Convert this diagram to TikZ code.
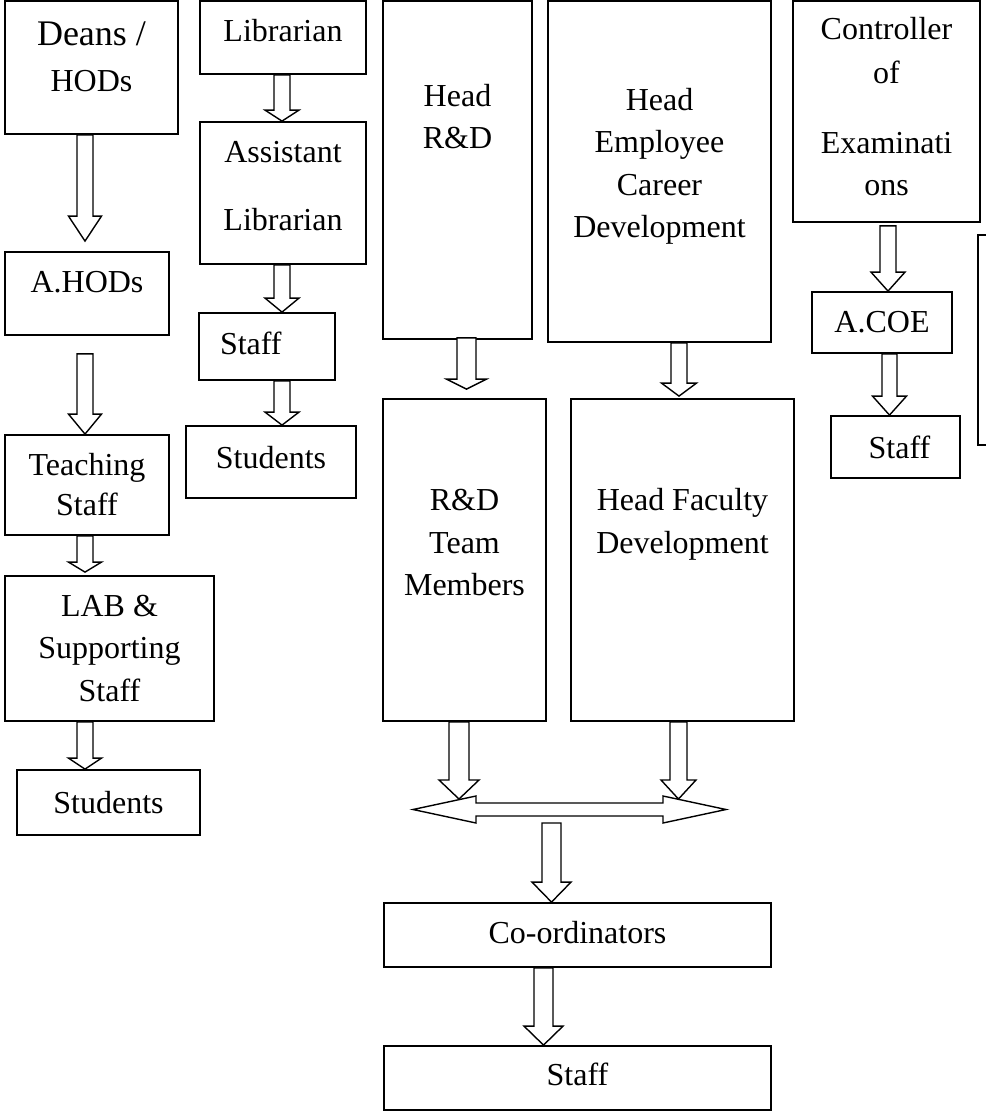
\documentclass[tikz,border=0pt]{standalone}
\usepackage{fontspec}
\setmainfont{Liberation Serif}
\usetikzlibrary{calc}
\newcommand\blockdown[6]{%
  \draw[hollow] let \p1=(#2), \p2=(#3) in
    (#1-#4/2,\y1) -- (#1-#4/2,\y2+#6) -- (#1-#5/2,\y2+#6) -- (#1,\y2)
    -- (#1+#5/2,\y2+#6) -- (#1+#4/2,\y2+#6) -- (#1+#4/2,\y1) -- cycle;}
\begin{document}
\begin{tikzpicture}[x=1pt,y=-1pt,
    box/.style={draw=black, line width=1.8pt, fill=white, inner sep=2pt, align=center,
      font=\fontsize{32}{42.5}\selectfont},
    hollow/.style={draw=black, line width=1.4pt, fill=white, line join=miter}]
    \useasboundingbox (0,0) rectangle (985,1113);
    \node[box, minimum width=173pt, minimum height=133pt, text depth=22pt] (deans) at (91.5,67.5) {{\fontsize{36}{47}\selectfont Deans /}\\[4pt]HODs};
    \node[box, minimum width=164pt, minimum height=83pt, text depth=23pt] (ahods) at (87,293.5) {A.HODs};
    \node[box, minimum width=164pt, minimum height=100pt] (teach) at (87,485) {Teaching\\[-2.5pt]Staff};
    \node[box, minimum width=209pt, minimum height=145pt] (lab) at (109.5,648.5) {LAB \&\\Supporting\\Staff};
    \node[box, minimum width=183pt, minimum height=65pt] (stuleft) at (108.5,802.5) {Students};
    \node[box, minimum width=166pt, minimum height=73pt, text depth=15pt] (lib) at (283,37.5) {Librarian};
    \node[box, minimum width=166pt, minimum height=142pt, text depth=14pt] (alib) at (283,193) {Assistant\\[25.5pt]Librarian};
    \node[box, minimum width=136pt, minimum height=67pt, inner xsep=21pt, text width=94pt, align=left, text depth=7pt] (libstaff) at (267,346.5) {Staff};
    \node[box, minimum width=170pt, minimum height=72pt, text depth=10pt] (libstu) at (271,462) {Students};
    \node[box, minimum width=149pt, minimum height=338pt, text depth=107pt] (headrd) at (457.5,170) {Head\\R\&D};
    \node[box, minimum width=223pt, minimum height=341pt, text depth=17pt] (headecd) at (659.5,171.5) {Head\\Employee\\Career\\Development};
    \node[box, minimum width=163pt, minimum height=322pt, text depth=35pt] (rdteam) at (464.5,560) {R\&D\\Team\\Members};
    \node[box, minimum width=223pt, minimum height=322pt, text depth=78pt] (headfd) at (682.5,560) {Head Faculty\\Development};
    \node[box, minimum width=187pt, minimum height=221pt, text depth=10pt] (coe) at (886.5,111.5) {Controller\\[1.5pt]of\\[27.5pt]Examinati\\ons};
    \node[box, minimum width=140pt, minimum height=61pt] (acoe) at (882,322.5) {A.COE};
    \node[box, minimum width=129pt, minimum height=62pt] (coestaff) at (895.5,447) {~Staff};
    \node[box, minimum width=387pt, minimum height=64pt, text depth=6pt] (coord) at (577.5,935) {Co-ordinators};
    \node[box, minimum width=387pt, minimum height=64pt, text depth=8pt] (staff) at (577.5,1078) {Staff};
    \draw[draw=black, line width=1.8pt] (986,235) -- (978,235) -- (978,445) -- (986,445);
    \coordinate (hub) at (569.5,809.5);
    \coordinate (hubleft) at (459,799);
    \coordinate (hubright) at (678.5,799);
    \coordinate (hubdown) at (551.5,823);
    \draw[hollow] (hub) ++(-156.5,0) -- ++(63,-13.5) -- ++(0,7) -- ++(187,0) -- ++(0,-7) -- ++(63,13.5)
        -- ++(-63,13.5) -- ++(0,-7) -- ++(-187,0) -- ++(0,7) -- cycle;
    \blockdown{85}{deans.south}{[yshift=10pt]ahods.north}{16}{33}{25}
    \blockdown{85}{[yshift=-18pt]ahods.south}{teach.north}{16}{33}{20}
    \blockdown{85}{teach.south}{[yshift=3pt]lab.north}{16}{33}{10}
    \blockdown{85}{lab.south}{stuleft.north}{16}{33}{11}
    \blockdown{282}{lib.south}{alib.north}{16}{34}{11}
    \blockdown{282}{alib.south}{libstaff.north}{16}{34}{14}
    \blockdown{282}{libstaff.south}{libstu.north}{16}{34}{13}
    \blockdown{466.5}{[yshift=2pt]headrd.south}{[yshift=9pt]rdteam.north}{19}{40}{10}
    \blockdown{679}{headecd.south}{[yshift=2pt]headfd.north}{16}{35}{13}
    \blockdown{459}{rdteam.south}{hubleft}{20}{40}{19}
    \blockdown{678.5}{headfd.south}{hubright}{17}{35}{19}
    \blockdown{551.5}{hubdown}{coord.north}{19}{39}{20}
    \blockdown{543.5}{coord.south}{staff.north}{19}{39}{19}
    \blockdown{888}{[yshift=-3pt]coe.south}{acoe.north}{16}{34}{19}
    \blockdown{889.5}{acoe.south}{coestaff.north}{15}{34}{19}
\end{tikzpicture}
\end{document}
